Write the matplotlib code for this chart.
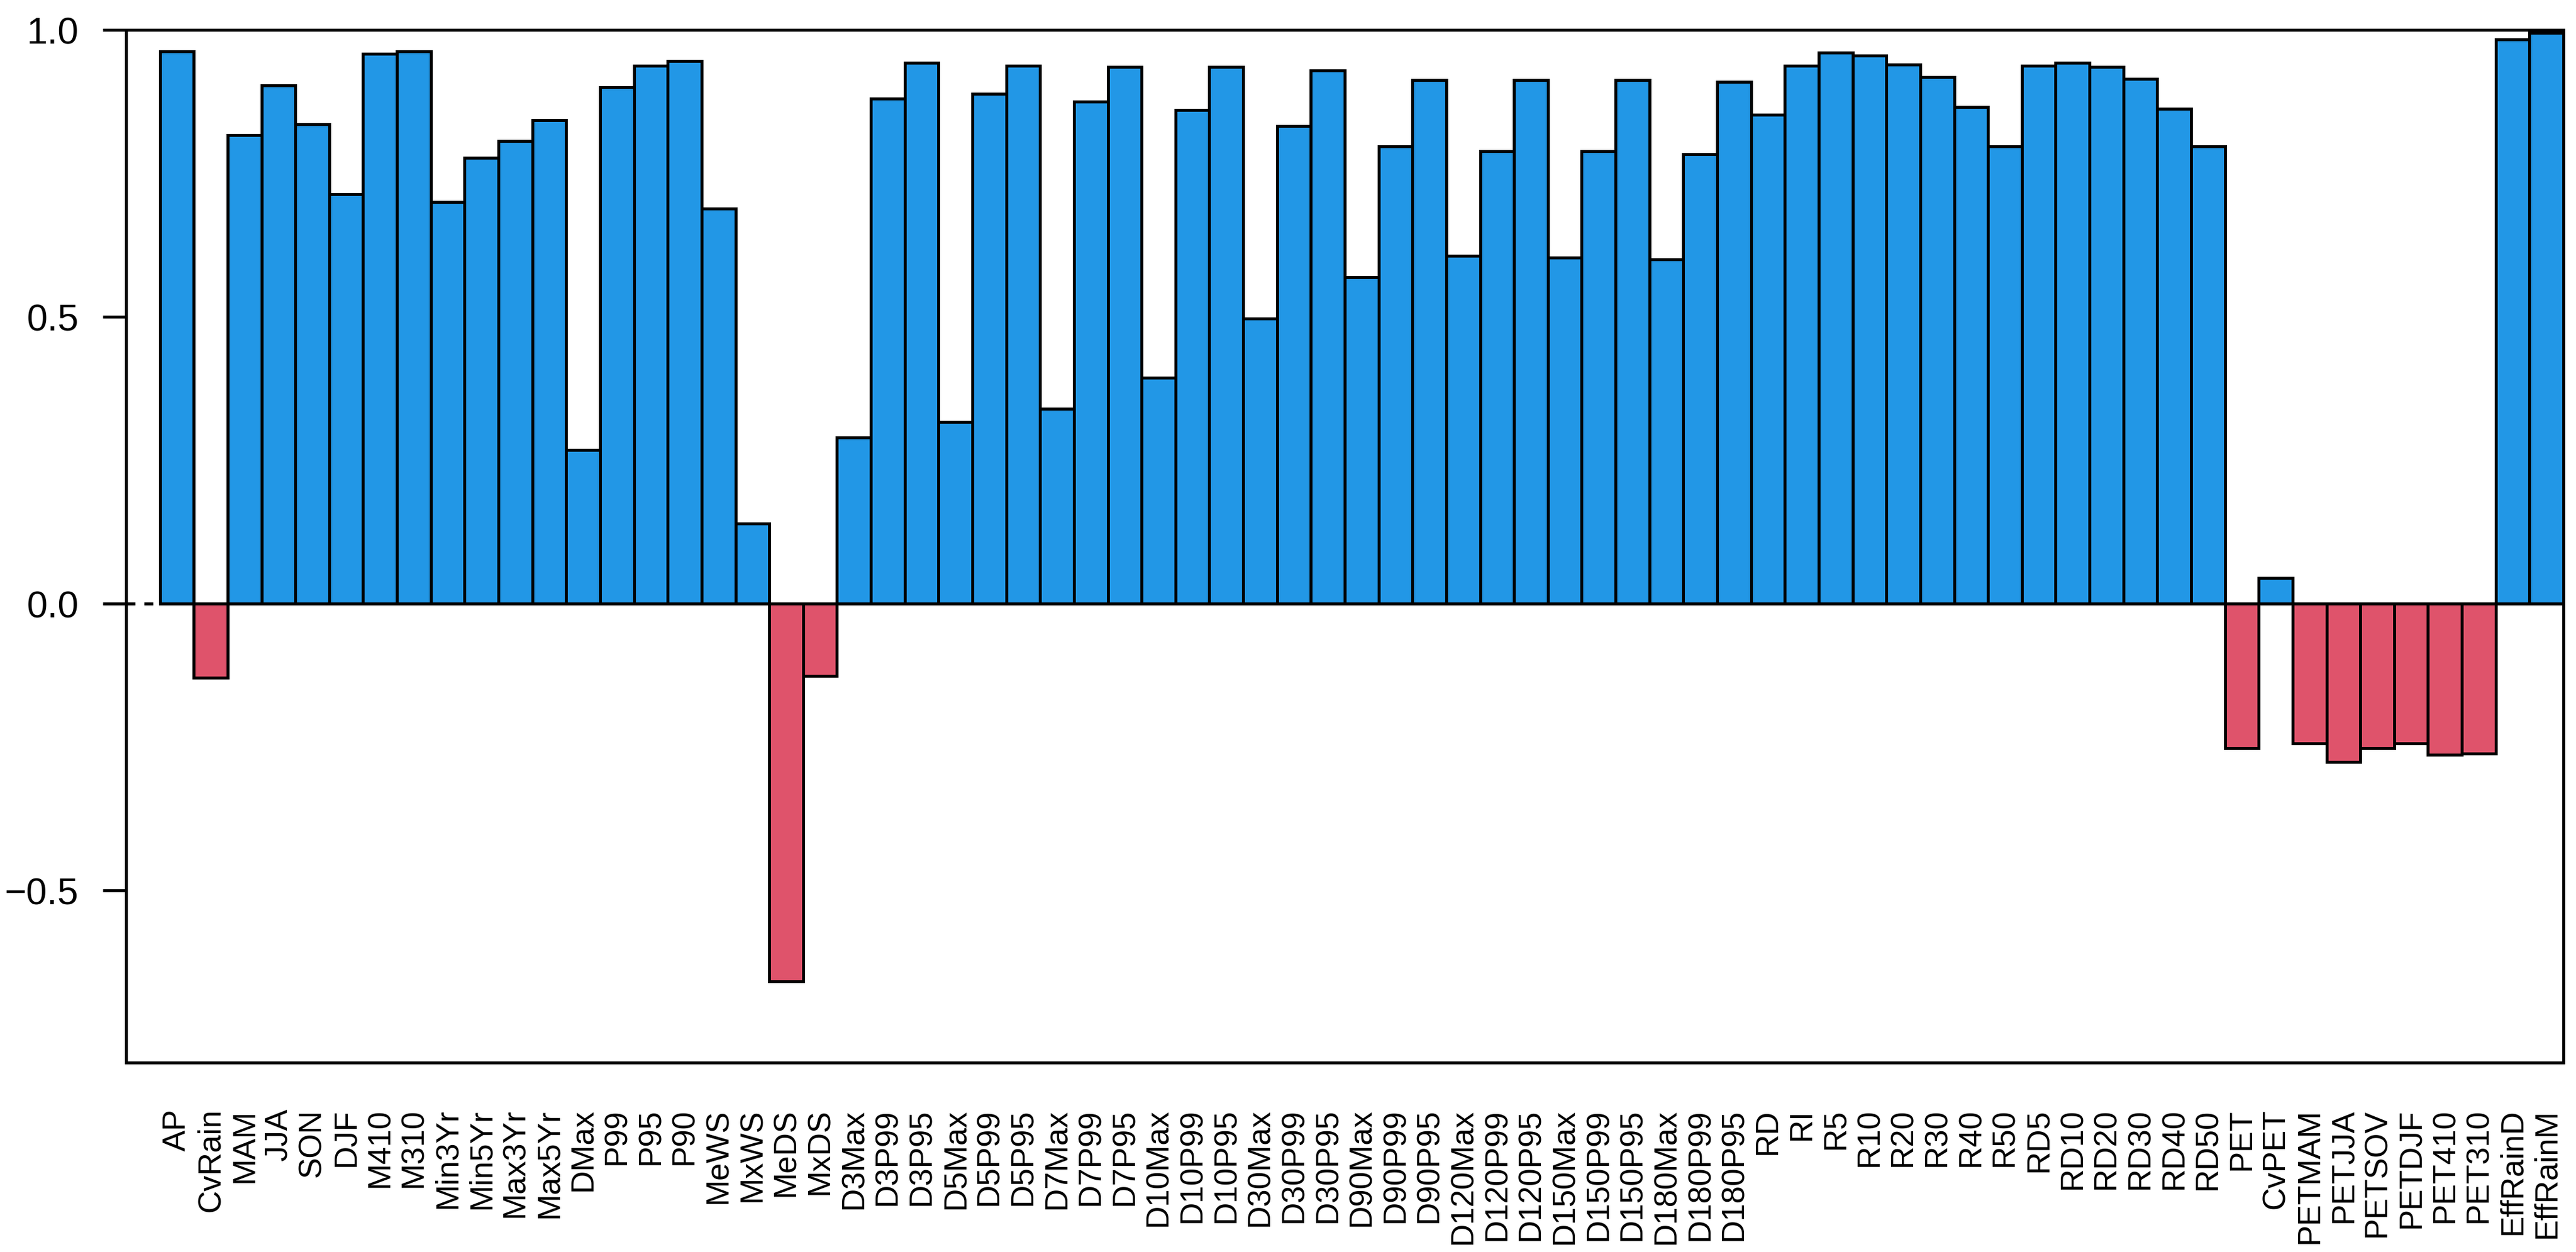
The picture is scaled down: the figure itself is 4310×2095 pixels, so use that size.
import matplotlib
matplotlib.use('Agg')
import matplotlib.pyplot as plt

plt.rcParams['font.family'] = ['Liberation Sans', 'DejaVu Sans']

names = ['AP', 'CvRain', 'MAM', 'JJA', 'SON', 'DJF', 'M410', 'M310',
         'Min3Yr', 'Min5Yr', 'Max3Yr', 'Max5Yr', 'DMax', 'P99', 'P95', 'P90',
         'MeWS', 'MxWS', 'MeDS', 'MxDS',
         'D3Max', 'D3P99', 'D3P95', 'D5Max', 'D5P99', 'D5P95',
         'D7Max', 'D7P99', 'D7P95', 'D10Max', 'D10P99', 'D10P95',
         'D30Max', 'D30P99', 'D30P95', 'D90Max', 'D90P99', 'D90P95',
         'D120Max', 'D120P99', 'D120P95', 'D150Max', 'D150P99', 'D150P95',
         'D180Max', 'D180P99', 'D180P95',
         'RD', 'RI', 'R5', 'R10', 'R20', 'R30', 'R40', 'R50',
         'RD5', 'RD10', 'RD20', 'RD30', 'RD40', 'RD50',
         'PET', 'CvPET', 'PETMAM', 'PETJJA', 'PETSOV', 'PETDJF', 'PET410', 'PET310',
         'EffRainD', 'EffRainM']

corr = [0.963, -0.129, 0.817, 0.903, 0.835, 0.714, 0.958, 0.963,
        0.700, 0.777, 0.806, 0.843, 0.268, 0.900, 0.937, 0.946,
        0.689, 0.140, -0.658, -0.126,
        0.290, 0.880, 0.943, 0.317, 0.889, 0.938,
        0.340, 0.875, 0.935, 0.394, 0.860, 0.935,
        0.497, 0.832, 0.929, 0.569, 0.797, 0.912,
        0.606, 0.789, 0.912, 0.603, 0.789, 0.912,
        0.600, 0.783, 0.909,
        0.852, 0.937, 0.960, 0.955, 0.940, 0.918, 0.866, 0.797,
        0.937, 0.943, 0.935, 0.915, 0.863, 0.797,
        -0.252, 0.045, -0.244, -0.276, -0.252, -0.244, -0.264, -0.261,
        0.983, 0.995]

yticks = [-0.5, 0.0, 0.5, 1.0]
ytick_labels = ['\u22120.5', '0.0', '0.5', '1.0']

blue = '#2297E6'
red = '#DF536B'
colors = [blue if v >= 0 else red for v in corr]

fig = plt.figure(figsize=(4310 / 300, 2095 / 300), dpi=300)
ax = fig.add_axes([211 / 4310, (2095 - 1778) / 2095, (4289 - 211) / 4310, (1778 - 50) / 2095])

x = [i + 0.5 for i in range(len(names))]
ax.axhline(0, color='black', lw=1.2, ls=(0, (3, 3)), zorder=1)
ax.bar(x, corr, width=1.0, color=colors, edgecolor='black', linewidth=1.2, zorder=2)

ax.set_xlim(-1, len(names))
ax.set_ylim(-0.8, 1.0)

ax.set_yticks(yticks)
ax.set_yticklabels(ytick_labels)
ax.tick_params(axis='y', length=9.4, width=1.2, pad=9.6, labelsize=15)
ax.set_xticks(x)
ax.set_xticklabels(names, rotation=90, fontsize=12.7)
ax.tick_params(axis='x', length=0, pad=18.5)

for s in ax.spines.values():
    s.set_linewidth(1.2)

fig.savefig('out.png', dpi=300)
